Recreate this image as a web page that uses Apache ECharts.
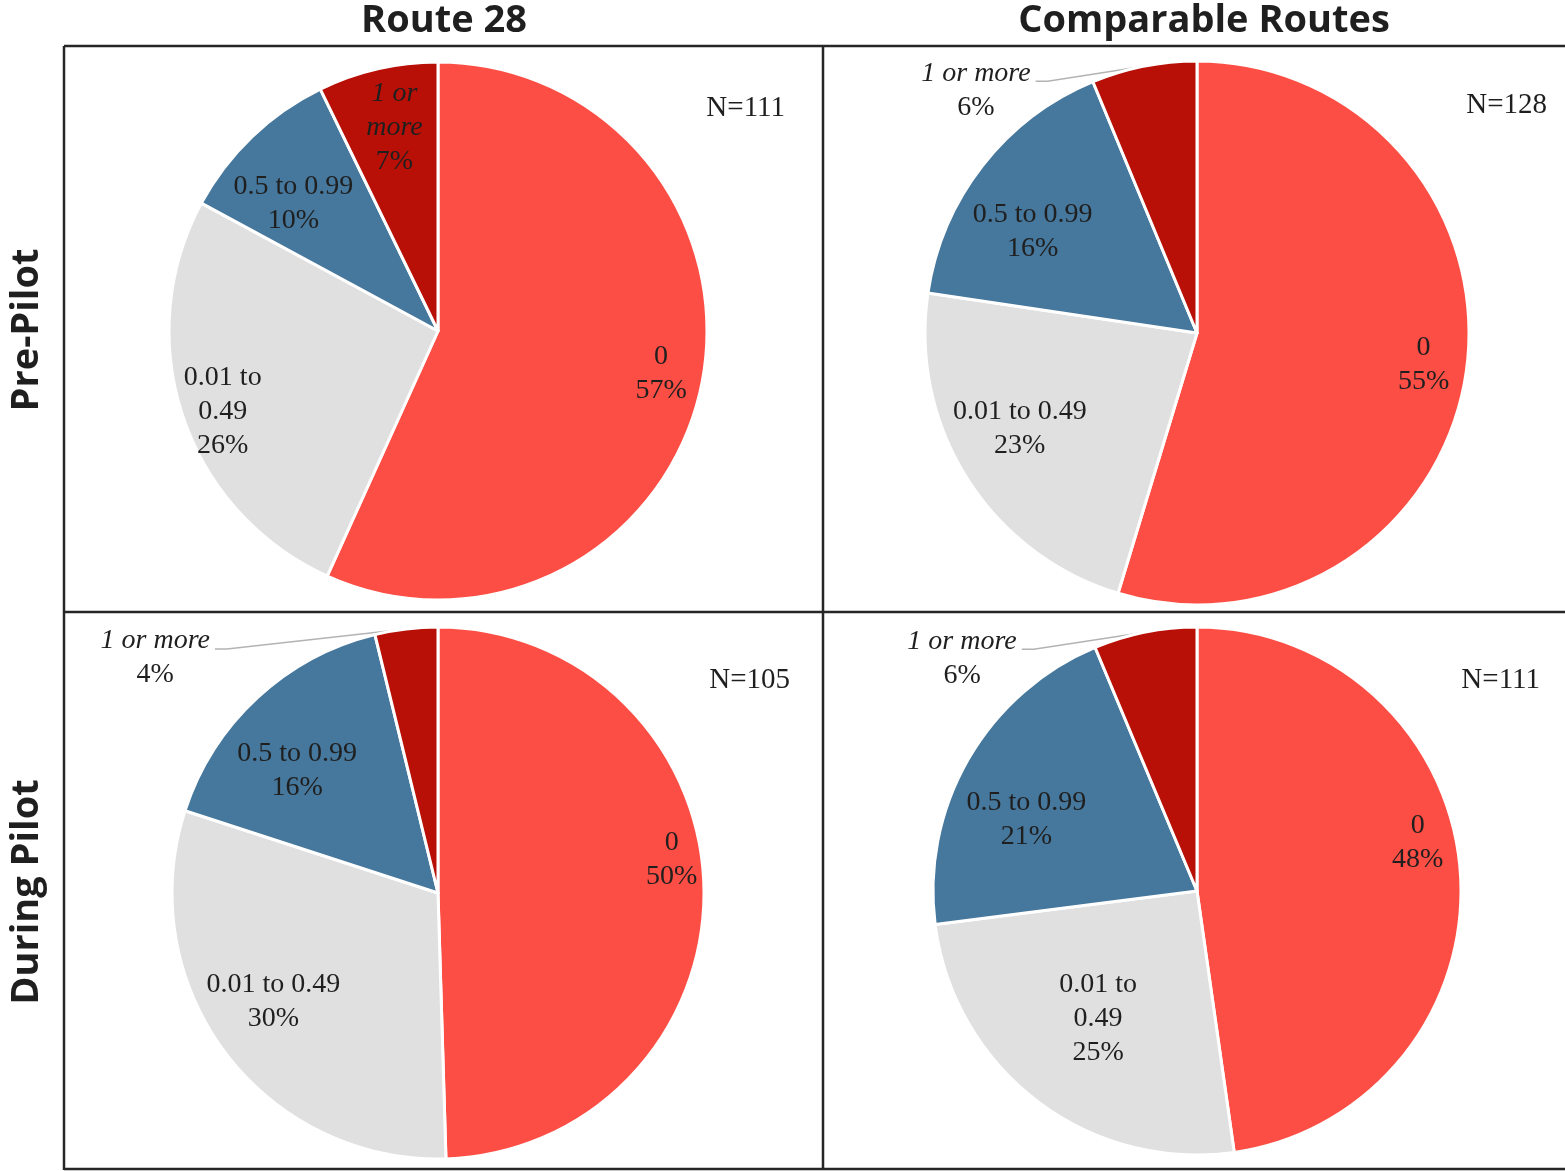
<!DOCTYPE html>
<html><head><meta charset="utf-8">
<script src="https://cdn.jsdelivr.net/npm/echarts@6/dist/echarts.min.js"></script>
<style>html,body{margin:0;padding:0;background:#fff}#c{width:1565px;height:1171px}</style>
</head><body><div id="c"></div>
<script>
// ---- data ----
const categories = ['0', '0.01 to 0.49', '0.5 to 0.99', '1 or more'];
const columnTitles = ['Route 28', 'Comparable Routes'];
const rowTitles = ['Pre-Pilot', 'During Pilot'];
const route28PrePilot = [63, 29, 11, 8];        // N=111
const comparablePrePilot = [70, 29, 21, 8];     // N=128
const route28DuringPilot = [52, 32, 17, 4];     // N=105
const comparableDuringPilot = [53, 28, 23, 7];  // N=111

// ---- style ----
const colors = ['#FC4E44', '#E0E0E0', '#46779C', '#B81006'];
const SERIF = "'Liberation Serif', serif";
const SANS = "'Open Sans', sans-serif";
const TEXT = '#1f1f1f';
const FRAME = '#262626';

const panels = [
  { values: route28PrePilot, center: [438, 331], r: 269, nPos: [785, 108],
    labels: [[0.833, -1.4], [0.844, -2], [0.706, -4.8], [0.762, 0.9]],
    wrap: { '0.01 to 0.49': '0.01 to\n0.49', '1 or more': '1 or\nmore' }, outside: null },
  { values: comparablePrePilot, center: [1197, 333], r: 272, nPos: [1547, 105],
    labels: [[0.83, -0.5], [0.73, 3.9], [0.70, -6.2], null],
    wrap: {}, outside: [-168, 24] },
  { values: route28DuringPilot, center: [438, 893], r: 266, nPos: [790, 680],
    labels: [[0.876, -7.2], [0.73, 3.5], [0.69, -6.2], null],
    wrap: {}, outside: [-251, 29] },
  { values: comparableDuringPilot, center: [1197, 891], r: 264, nPos: [1540, 680],
    labels: [[0.845, -8.4], [0.6, 0.5], [0.69, -7.2], null],
    wrap: { '0.01 to 0.49': '0.01 to\n0.49' }, outside: [-183, 26] }
];

const rich = {
  n: { fontFamily: SERIF, fontSize: 28, lineHeight: 34, color: TEXT },
  i: { fontFamily: SERIF, fontSize: 28, lineHeight: 34, color: TEXT, fontStyle: 'italic' }
};

function makeFormatter(wrap) {
  return function (p) {
    const txt = wrap[p.name] || p.name;
    const st = p.name === '1 or more' ? 'i' : 'n';
    return txt.split('\n').map(l => '{' + st + '|' + l + '}').join('\n') + '\n{n|' + p.percent + '%}';
  };
}

const series = [];
panels.forEach((pn) => {
  const hasOut = !!pn.outside;
  const data = categories.map((c, k) => ({
    name: c, value: pn.values[k], itemStyle: { color: colors[k] },
    label: { show: hasOut && k === 3 }, labelLine: { show: hasOut && k === 3 }
  }));
  const off = pn.outside;
  series.push({
    type: 'pie', center: pn.center, radius: pn.r, startAngle: 90, clockwise: true,
    percentPrecision: 0, avoidLabelOverlap: false, silent: true, animation: false,
    itemStyle: { borderColor: '#fff', borderWidth: 3 },
    emphasis: { disabled: true },
    label: { show: false, position: 'outside', formatter: makeFormatter(pn.wrap), rich: rich, align: 'center' },
    labelLine: { show: false, length: 10, length2: 10, lineStyle: { color: '#b3b3b3', width: 1.5 } },
    labelLayout: hasOut ? function (params) {
      if (params.dataIndex !== 3) return {};
      const pts = params.labelLinePoints;
      if (!pts || !pts[0]) return {};
      const a = pts[0];
      const cx = a[0] + off[0], cy = a[1] + off[1];
      const w = params.labelRect.width;
      const ex = cx + w / 2 + 5, ey = cy - 9;
      return {
        x: cx, y: cy, align: 'center', verticalAlign: 'middle',
        labelLinePoints: [[a[0], a[1]], [ex + 12, ey], [ex, ey]]
      };
    } : undefined,
    data: data
  });
  pn.labels.forEach((lb, k) => {
    if (!lb) return;
    const f = lb[0], rot = lb[1];
    series.push({
      type: 'pie', center: pn.center, radius: [(2 * f - 1) * pn.r, pn.r],
      startAngle: 90 - rot, clockwise: true, percentPrecision: 0,
      avoidLabelOverlap: false, silent: true, animation: false, z: 5,
      itemStyle: { color: 'rgba(0,0,0,0)', borderWidth: 0 },
      emphasis: { disabled: true },
      label: { show: false, position: 'inside', formatter: makeFormatter(pn.wrap), rich: rich, align: 'center' },
      labelLine: { show: false },
      data: categories.map((c, j) => ({ name: c, value: pn.values[j], label: { show: j === k } }))
    });
  });
});

const graphic = [];
function line(x1, y1, x2, y2) {
  graphic.push({ type: 'line', silent: true, shape: { x1, y1, x2, y2 }, style: { stroke: FRAME, lineWidth: 2.5 } });
}
line(64, 46, 1565, 46);
line(64, 612, 1565, 612);
line(64, 1169, 1565, 1169);
line(64, 46, 64, 1170);
line(823, 46, 823, 1170);

const colX = [444, 1204];
columnTitles.forEach((t, i) => graphic.push({
  type: 'text', x: colX[i], y: 21, silent: true,
  style: { text: t, fontFamily: SANS, fontWeight: 700, fontSize: 38, fill: TEXT, align: 'center', verticalAlign: 'middle' }
}));
const rowY = [330, 892];
rowTitles.forEach((t, i) => graphic.push({
  type: 'text', x: 27, y: rowY[i], rotation: Math.PI / 2, silent: true,
  style: { text: t, fontFamily: SANS, fontWeight: 700, fontSize: 38, fill: TEXT, align: 'center', verticalAlign: 'middle' }
}));
panels.forEach(pn => {
  const n = pn.values.reduce((s, v) => s + v, 0);
  graphic.push({
    type: 'text', x: pn.nPos[0], y: pn.nPos[1], silent: true,
    style: { text: 'N=' + n, fontFamily: SERIF, fontSize: 29, fill: TEXT, align: 'right', verticalAlign: 'middle' }
  });
});

const chart = echarts.init(document.getElementById('c'), null, { renderer: 'canvas' });
chart.setOption({ animation: false, backgroundColor: '#fff', series: series, graphic: graphic });
</script>
</body></html>
